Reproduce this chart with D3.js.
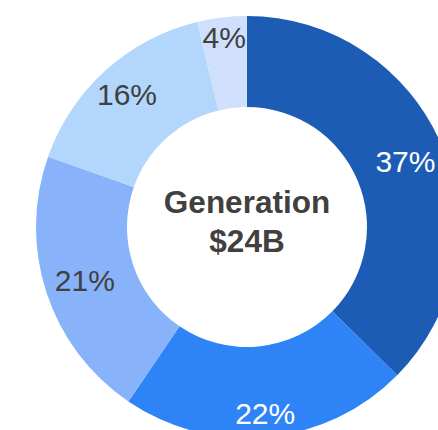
<!DOCTYPE html>
<html>
<head>
<meta charset="utf-8">
<script src="https://d3js.org/d3.v7.min.js"></script>
<style>
  body { margin: 0; background: #fff; }
  svg { display: block; font-family: "Liberation Sans", Arial, sans-serif; }
</style>
</head>
<body>
<div id="chart"></div>
<script>
// slice shares (percent of $24B), clockwise from 12 o'clock
var shares = [37.4, 22.1, 20.9, 15.8, 3.8]
var sliceColors = ['#1c5cb5', '#2e83f6', '#88b3fa', '#b3d6fd', '#cfdffc']
var labelColors = ['#ffffff', '#ffffff', '#404040', '#404040', '#404040']
var centerLines = ['Generation', '$24B']

var w = 438, h = 430
var cx = 247, cy = 227
var outerR = 211, innerR = 120

var svg = d3.select('#chart')
  .append('svg')
  .attr('width', w)
  .attr('height', h)

var g = svg.append('g')
  .attr('transform', 'translate(' + cx + ',' + cy + ')')

var pie = d3.pie()
  .sort(null)
  .value(function(d) { return d })

var arc = d3.arc()
  .innerRadius(innerR)
  .outerRadius(outerR)

var arcs = pie(shares)

// slices
g.selectAll('.slice')
  .data(arcs)
  .enter().append('path')
  .attr('class', 'slice')
  .attr('d', arc)
  .attr('fill', function(d, i) { return sliceColors[i] })

// percent labels, pushed outward near top/bottom and for thin slices
g.selectAll('.pct')
  .data(arcs)
  .enter().append('text')
  .attr('class', 'pct')
  .attr('transform', function(d) {
    var a = (d.startAngle + d.endAngle) / 2
    var r = 169 + 18 * Math.cos(a) * Math.cos(a)
    if (d.endAngle - d.startAngle < 0.5) r += 4
    return 'translate(' + (r * Math.sin(a)) + ',' + (-r * Math.cos(a)) + ')'
  })
  .attr('dy', '0.36em')
  .attr('text-anchor', 'middle')
  .attr('font-size', 30)
  .attr('fill', function(d, i) { return labelColors[i] })
  .text(function(d) { return Math.round(d.data) + '%' })

// center title
g.selectAll('.center')
  .data(centerLines)
  .enter().append('text')
  .attr('class', 'center')
  .attr('x', 0)
  .attr('y', function(d, i) { return -14 + i * 39 })
  .attr('text-anchor', 'middle')
  .attr('font-size', 31.5)
  .attr('font-weight', 'bold')
  .attr('fill', '#404040')
  .text(function(d) { return d })
</script>
</body>
</html>
